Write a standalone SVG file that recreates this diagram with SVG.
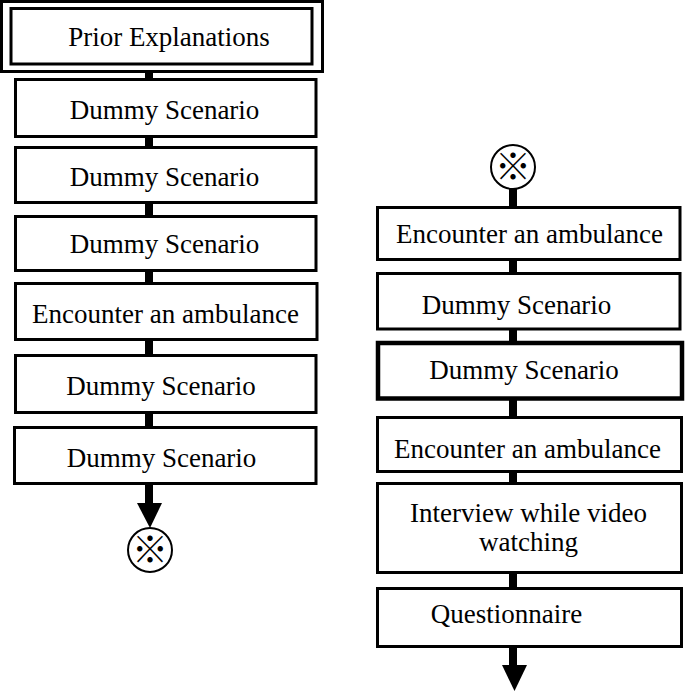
<svg xmlns="http://www.w3.org/2000/svg" width="685" height="692" viewBox="0 0 685 692">
<style>
.box{fill:#fff;stroke:#000;stroke-width:3}
.thick{fill:#fff;stroke:#000;stroke-width:4.5}
.t{font-family:"Liberation Serif","Times New Roman",serif;font-size:27px;fill:#000;text-anchor:middle}
.sym{font-family:"Noto Sans CJK JP","DejaVu Sans",sans-serif;font-size:36px;fill:#000;text-anchor:middle}
.circ{fill:#fff;stroke:#000;stroke-width:2}
</style>
<rect width="685" height="692" fill="#fff"/>
<g id="connectors" fill="#000">
<rect x="145" y="71" width="8" height="10"/>
<rect x="145" y="136" width="8" height="12"/>
<rect x="145" y="202" width="8" height="15"/>
<rect x="145" y="270" width="8" height="14"/>
<rect x="145" y="339" width="8" height="17"/>
<rect x="145" y="412" width="8" height="16"/>
<rect x="145" y="483" width="8" height="21"/>
<polygon points="137,503 162,503 150,528"/>
<rect x="509" y="189" width="8" height="19"/>
<rect x="509" y="259" width="8" height="15"/>
<rect x="509" y="328" width="8" height="15"/>
<rect x="509" y="398" width="8" height="20"/>
<rect x="509" y="471" width="8" height="13"/>
<rect x="509" y="572" width="8" height="17"/>
<rect x="509" y="646" width="8" height="20"/>
<polygon points="502,665 527,665 514.5,691"/>
</g>
<g id="prior">
<rect x="1.5" y="1.5" width="321" height="70" class="box"/>
<rect x="11" y="8.5" width="301" height="55.5" class="box"/>
<text x="169" y="46" class="t">Prior Explanations</text>
</g>
<g id="dummy1">
<rect x="15.5" y="79.5" width="300.5" height="57" class="box"/>
<text x="164.5" y="119" class="t">Dummy Scenario</text>
</g>
<g id="dummy2">
<rect x="15.5" y="147.5" width="300.5" height="55" class="box"/>
<text x="164.5" y="186" class="t">Dummy Scenario</text>
</g>
<g id="dummy3">
<rect x="15.5" y="216.5" width="300.5" height="54" class="box"/>
<text x="164.5" y="253" class="t">Dummy Scenario</text>
</g>
<g id="encounter1">
<rect x="15.5" y="283.5" width="301.5" height="56" class="box"/>
<text x="165.5" y="323" class="t">Encounter an ambulance</text>
</g>
<g id="dummy4">
<rect x="15.5" y="355.5" width="300.5" height="57" class="box"/>
<text x="161" y="395" class="t">Dummy Scenario</text>
</g>
<g id="dummy5">
<rect x="14.5" y="427.5" width="301.5" height="56" class="box"/>
<text x="161.5" y="467" class="t">Dummy Scenario</text>
</g>
<g id="connectorA">
<circle cx="150" cy="550" r="22" class="circ"/>
<text x="150" y="563" class="sym">※</text>
</g>
<g id="connectorB">
<circle cx="513" cy="167" r="22" class="circ"/>
<text x="513" y="180" class="sym">※</text>
</g>
<g id="encounter2">
<rect x="377.5" y="207.5" width="302.5" height="52" class="box"/>
<text x="529.5" y="243" class="t">Encounter an ambulance</text>
</g>
<g id="dummy6">
<rect x="377.5" y="273.5" width="302.5" height="55.5" class="box"/>
<text x="516.5" y="314" class="t">Dummy Scenario</text>
</g>
<g id="dummy7">
<rect x="378" y="343" width="304" height="55.5" class="thick"/>
<text x="524" y="379" class="t">Dummy Scenario</text>
</g>
<g id="encounter3">
<rect x="377.5" y="417.5" width="304" height="54" class="box"/>
<text x="527.5" y="458" class="t">Encounter an ambulance</text>
</g>
<g id="interview">
<rect x="377.5" y="483.5" width="304" height="89" class="box"/>
<text x="528.5" y="522" class="t">Interview while video</text>
<text x="528.5" y="551" class="t">watching</text>
</g>
<g id="questionnaire">
<rect x="377.5" y="588.5" width="304" height="58" class="box"/>
<text x="506.5" y="623" class="t">Questionnaire</text>
</g>
</svg>
